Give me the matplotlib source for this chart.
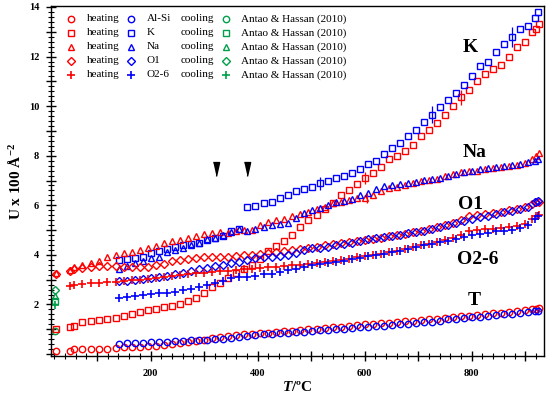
import numpy as np
import matplotlib
matplotlib.use('Agg')
import matplotlib.pyplot as plt
from matplotlib.ticker import MultipleLocator, FuncFormatter

plt.rcParams['font.family'] = ['Liberation Serif', 'DejaVu Serif']
plt.rcParams['mathtext.fontset'] = 'custom'
plt.rcParams['mathtext.rm'] = 'Liberation Serif:bold'
plt.rcParams['mathtext.bf'] = 'Liberation Serif:bold'
plt.rcParams['mathtext.it'] = 'Liberation Serif:italic:bold'

# ── data ────────────────────────────────────────────────────────────────────
T_heat = [24, 49, 57, 72, 88, 103, 119,
          135, 150, 165, 180, 195, 210, 225, 240, 255, 270,
          285, 300, 315, 330, 345, 360, 375, 390, 405, 420,
          435, 450, 465, 480, 495, 510, 525, 540, 555, 570,
          585, 600, 615, 630, 645, 660, 675, 690, 705, 720,
          735, 750, 765, 780, 795, 810, 825, 840, 855, 870,
          885, 900, 913, 920, 925]

T_cool = [141, 156, 171, 186, 201, 216, 231, 246, 261, 276,
          291, 306, 321, 336, 351, 366, 381, 396, 411, 426,
          441, 456, 471, 486, 501, 516, 531, 546, 561, 576,
          591, 606, 621, 636, 651, 666, 681, 696, 711, 726,
          741, 756, 771, 786, 801, 816, 831, 846, 861, 876,
          891, 906, 918, 924]

alsi_heat = [0.12, 0.13, 0.19, 0.20, 0.20, 0.20, 0.20,
             0.25, 0.27, 0.28, 0.30, 0.32, 0.34, 0.36, 0.40, 0.45, 0.48,
             0.52, 0.56, 0.64, 0.67, 0.73, 0.76, 0.79, 0.80, 0.83, 0.86,
             0.88, 0.92, 0.94, 0.97, 1.00, 1.02, 1.05, 1.08, 1.10, 1.14,
             1.17, 1.20, 1.22, 1.25, 1.27, 1.30, 1.33, 1.35, 1.38, 1.40,
             1.43, 1.46, 1.48, 1.52, 1.55, 1.58, 1.62, 1.65, 1.67, 1.70,
             1.73, 1.76, 1.80, 1.83, 1.84]

k_heat = [1.00, 1.07, 1.13, 1.29, 1.34, 1.37, 1.41,
          1.46, 1.53, 1.61, 1.68, 1.76, 1.80, 1.90, 1.95, 2.00, 2.15,
          2.27, 2.45, 2.71, 2.85, 3.05, 3.25, 3.41, 3.60, 3.85, 4.15,
          4.35, 4.55, 4.80, 5.13, 5.40, 5.60, 5.85, 6.10, 6.40, 6.60,
          6.85, 7.10, 7.30, 7.55, 7.85, 8.00, 8.20, 8.45, 8.80, 9.05,
          9.30, 9.65, 10.00, 10.35, 10.65, 11.00, 11.30, 11.50, 11.65, 12.00,
          12.40, 12.60, 13.00, 13.10, 13.30]

na_heat = [3.28, 3.39, 3.52, 3.59, 3.66, 3.75, 3.90,
           4.00, 4.08, 4.13, 4.20, 4.28, 4.36, 4.46, 4.55, 4.61, 4.68,
           4.75, 4.84, 4.90, 4.93, 4.90, 4.95, 5.00, 5.02, 5.20, 5.34,
           5.40, 5.45, 5.55, 5.63, 5.72, 5.85, 5.95, 6.08, 6.15, 6.22,
           6.30, 6.30, 6.42, 6.58, 6.68, 6.75, 6.82, 6.90, 6.97, 7.03,
           7.08, 7.17, 7.27, 7.33, 7.40, 7.40, 7.45, 7.52, 7.55, 7.60,
           7.62, 7.70, 7.85, 8.00, 8.10]

o1_heat = [3.22, 3.35, 3.41, 3.49, 3.53, 3.55, 3.55,
           3.56, 3.52, 3.52, 3.50, 3.52, 3.59, 3.63, 3.75, 3.80, 3.84,
           3.86, 3.90, 3.90, 3.90, 3.93, 3.95, 3.98, 3.99, 4.03, 4.06,
           4.10, 4.15, 4.20, 4.25, 4.28, 4.33, 4.38, 4.43, 4.46, 4.50,
           4.55, 4.60, 4.65, 4.70, 4.75, 4.80, 4.86, 4.92, 4.98, 5.05,
           5.12, 5.20, 5.30, 5.42, 5.55, 5.62, 5.66, 5.70, 5.74, 5.80,
           5.86, 5.93, 6.05, 6.12, 6.15]

o26_heat = [np.nan, 2.75, 2.80, 2.82, 2.85, 2.86, 2.89,
            2.92, 2.95, 2.97, 3.00, 3.02, 3.05, 3.10, 3.15, 3.18, 3.22,
            3.25, 3.28, 3.30, 3.33, 3.36, 3.40, 3.42, 3.45, 3.48, 3.50,
            3.52, 3.55, 3.58, 3.61, 3.64, 3.68, 3.72, 3.76, 3.80, 3.85,
            3.90, 3.95, 4.00, 4.05, 4.10, 4.15, 4.22, 4.30, 4.38, 4.45,
            4.52, 4.60, 4.70, 4.80, 4.95, 5.00, 5.03, 5.06, 5.08, 5.12,
            5.18, 5.25, 5.45, 5.55, 5.60]

alsi_cool = [0.42, 0.44, 0.45, 0.46, 0.47, 0.49, 0.50, 0.52, 0.53, 0.55,
             0.55, 0.57, 0.60, 0.62, 0.66, 0.68, 0.72, 0.76, 0.79, 0.81,
             0.83, 0.85, 0.88, 0.90, 0.92, 0.95, 0.97, 1.00, 1.02, 1.05,
             1.08, 1.11, 1.13, 1.15, 1.18, 1.20, 1.23, 1.26, 1.28, 1.31,
             1.35, 1.40, 1.42, 1.45, 1.48, 1.50, 1.55, 1.58, 1.60, 1.63,
             1.65, 1.68, 1.72, 1.72]

k_cool = [3.78, 3.83, 3.86, 3.90, 4.06, 4.15, 4.23, 4.33, 4.40, 4.43,
          4.49, 4.60, 4.69, 4.77, 4.96, 5.04, 5.92, 5.97, 6.08, 6.14,
          6.28, 6.42, 6.57, 6.66, 6.72, 6.88, 6.97, 7.10, 7.18, 7.30,
          7.45, 7.65, 7.80, 8.05, 8.30, 8.50, 8.80, 9.05, 9.35, 9.65,
          9.95, 10.25, 10.55, 10.85, 11.20, 11.60, 11.80, 12.20, 12.50, 12.80,
          13.12, 13.25, 13.55, 13.80]

na_cool = [3.43, 3.55, 3.66, 3.75, 3.86, 3.92, 4.10, 4.19, 4.29, 4.40,
           4.46, 4.62, 4.70, 4.80, 4.93, 5.04, 4.97, 5.04, 5.13, 5.20,
           5.25, 5.29, 5.50, 5.70, 5.80, 5.88, 6.00, 6.12, 6.18, 6.25,
           6.40, 6.50, 6.65, 6.78, 6.82, 6.85, 6.90, 6.95, 7.02, 7.07,
           7.12, 7.20, 7.28, 7.33, 7.40, 7.45, 7.50, 7.55, 7.60, 7.62,
           7.68, 7.75, 7.80, 7.85]

o1_cool = [2.96, 2.94, 2.98, 3.02, 3.08, 3.09, 3.16, 3.22, 3.25, 3.35,
           3.41, 3.48, 3.55, 3.59, 3.66, 3.72, 3.79, 3.86, 3.90, 3.92,
           3.95, 3.99, 4.08, 4.20, 4.26, 4.29, 4.33, 4.40, 4.42, 4.49,
           4.57, 4.62, 4.67, 4.72, 4.76, 4.82, 4.88, 4.93, 4.98, 5.05,
           5.12, 5.20, 5.28, 5.38, 5.45, 5.52, 5.58, 5.65, 5.72, 5.78,
           5.85, 5.95, 6.12, 6.18]

o26_cool = [2.27, 2.31, 2.35, 2.38, 2.42, 2.45, 2.47, 2.51, 2.58, 2.62,
            2.69, 2.78, 2.85, 2.95, 3.05, 3.09, 3.09, 3.16, 3.22, 3.22,
            3.30, 3.38, 3.45, 3.52, 3.58, 3.64, 3.68, 3.72, 3.77, 3.82,
            3.88, 3.95, 4.00, 4.03, 4.10, 4.15, 4.22, 4.30, 4.38, 4.44,
            4.50, 4.57, 4.65, 4.72, 4.80, 4.85, 4.90, 4.95, 4.98, 5.02,
            5.10, 5.20, 5.45, 5.55]

# Antao & Hassan (2010), room temperature
T_antao = 22
antao = {'Al-Si': 0.92, 'K': 2.13, 'Na': 2.34, 'O1': 2.58, 'O2-6': 1.97}

# the few visible error bars: (T, U, half-height, colour)
err_T = [516, 726, 876, 600, 780, 605]
err_U = [6.88, 9.65, 12.80, 7.10, 10.35, 6.30]
err_h = [0.25, 0.35, 0.40, 0.25, 0.30, 0.20]
err_c = ['b', 'b', 'b', 'r', 'r', 'r']

site_names = ['Al-Si', 'K', 'Na', 'O1', 'O2-6']
heat = [alsi_heat, k_heat, na_heat, o1_heat, o26_heat]
cool = [alsi_cool, k_cool, na_cool, o1_cool, o26_cool]

arrow_T = [322, 380]
arrow_U = 7.45

# ── styling ─────────────────────────────────────────────────────────────────
RED, BLUE, GREEN = '#ff0000', '#0000ff', '#00a04a'
MARKERS = ['o', 's', '^', 'D', '+']
MSIZE = {'o': 4.6, 's': 4.6, '^': 5.0, 'D': 3.6, '+': 6.0}

fig = plt.figure(figsize=(5.5, 3.98), dpi=100)
ax = fig.add_axes([51 / 550, 1 - 356 / 398, 493 / 550, 350 / 398])


def scatter(x, y, m, c):
    ax.plot(x, y, linestyle='none', marker=m, ms=MSIZE[m], mfc='none',
            mec=c, mew=1.0 if m != '+' else 1.2)


for name, m, h, c in zip(site_names, MARKERS, heat, cool):
    scatter(T_heat, h, m, RED)
    scatter(T_cool, c, m, BLUE)
    scatter([T_antao], [antao[name]], m, GREEN)

for t, u, e, c in zip(err_T, err_U, err_h, err_c):
    ax.errorbar(t, u, yerr=e, fmt='none', ecolor=RED if c == 'r' else BLUE,
                elinewidth=0.9, capsize=0)

# arrows marking the transitions
for t in arrow_T:
    ax.plot(t, arrow_U, linestyle='none', color='black',
            marker=[(-0.45, 1), (0.45, 1), (0, -1)], ms=10)

# site labels
lbl_kw = dict(fontsize=14, fontweight='bold', ha='center', va='center')
ax.text(797, 12.38, 'K', **lbl_kw)
ax.text(806, 8.11, 'Na', **lbl_kw)
ax.text(797, 6.05, 'O1', **lbl_kw)
ax.text(812, 3.83, 'O2-6', **lbl_kw)
ax.text(804, 2.17, 'T', **lbl_kw)

# hand-built legend (three marker columns)
rows_y = [0.963, 0.923, 0.883, 0.843, 0.803]
leg_kw = dict(transform=ax.transAxes, fontsize=8, va='center')
for yy, name, m in zip(rows_y, site_names, MARKERS):
    for xx, col in [(0.0406, RED), (0.1623, BLUE), (0.3544, GREEN)]:
        ax.plot(xx, yy, transform=ax.transAxes, linestyle='none', marker=m,
                ms=MSIZE[m], mfc='none', mec=col,
                mew=1.0 if m != '+' else 1.2, clip_on=False)
    ax.text(0.0724, yy, 'heating', **leg_kw)
    ax.text(0.194, yy, name, **leg_kw)
    ax.text(0.263, yy, 'cooling', **leg_kw)
    ax.text(0.3854, yy, 'Antao & Hassan (2010)', **leg_kw)

ax.set_xlim(14, 935)
ax.set_ylim(-0.08, 14.04)

ax.xaxis.set_major_locator(MultipleLocator(100))
ax.xaxis.set_minor_locator(MultipleLocator(20))
ax.yaxis.set_major_locator(MultipleLocator(1))
ax.yaxis.set_minor_locator(MultipleLocator(0.2))
ax.xaxis.set_major_formatter(FuncFormatter(
    lambda v, p: f'{int(v)}' if int(round(v)) % 200 == 0 and v > 0 else ''))
ax.yaxis.set_major_formatter(FuncFormatter(
    lambda v, p: f'{int(round(v))}' if int(round(v)) % 2 == 0 and v > 0.5 else ''))

ax.tick_params(axis='both', which='major', direction='inout', length=7,
               width=1.0, labelsize=7.5, top=False, right=False)
ax.tick_params(axis='both', which='minor', direction='inout', length=4,
               width=0.8, top=False, right=False)
ax.tick_params(axis='x', which='major', pad=6)
ax.tick_params(axis='y', which='major', pad=5)
for lab in ax.get_xticklabels() + ax.get_yticklabels():
    lab.set_fontweight('bold')
for sp in ax.spines.values():
    sp.set_linewidth(1.0)

ax.set_xlabel(r'$\it{T}$/ºC', fontsize=11, fontweight='bold', labelpad=1)
ax.set_ylabel(r'U x 100 Å$^{-2}$', fontsize=11, fontweight='bold', labelpad=4)

fig.savefig('out.png', dpi=100)
